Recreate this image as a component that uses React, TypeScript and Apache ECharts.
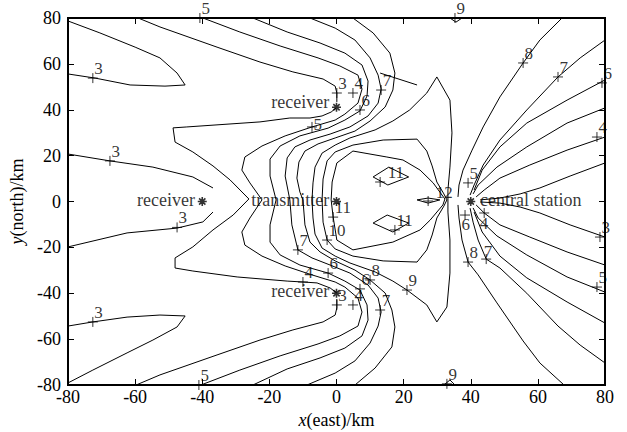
import React, { useEffect, useRef } from "react";
import * as echarts from "echarts";

const FONT = "'Liberation Serif', 'Times New Roman', Times, serif";

// ---- contour polylines, [x km, y km] ----
const wedge3Top = [[-80,78.7],[-70.5,73.5],[-60,67.3],[-52.6,62.6],[-47.5,56.0],[-45.1,50.8],[-51.1,50.3],[-61.5,50.8],[-71.9,53.8],[-80,55.6]];
const wedge3Bottom = [[-80,-79.1],[-72.6,-73.5],[-62.4,-66.0],[-54.7,-60.4],[-47.5,-54.7],[-45.1,-49.9],[-52.6,-49.5],[-62.4,-50.4],[-72.6,-52.5],[-80,-54.3]];
const left3Upper = [[-80,20.7],[-67.5,17.7],[-54.7,15.0],[-42.8,10.7],[-36.8,5.9]];
const left3Lower = [[-36.8,-4.6],[-39.8,-8.9],[-47.5,-11.6],[-62.4,-13.7],[-80,-19.8]];
const loop4 = [[-0.1,40.8],[-1.6,39.0],[-4.3,37.3],[-7.9,36.4],[-13.9,36.4],[-22.8,34.7],[-44.6,32.5],[-48.7,32.1],[-48.1,25.9],[-42.8,21.6],[-36.8,15.5],[-31.7,9.4],[-26.1,1.1],[-30.8,-5.9],[-36.8,-12.4],[-42.8,-19.8],[-48.1,-24.6],[-48.1,-29.0],[-42.8,-30.3],[-29.6,-32.9],[-14.7,-34.7],[-10.0,-35.1],[-5.8,-35.5],[-1.9,-37.7],[0.1,-39.9]];
const topA = [[-59.1,80],[-52.6,76.1],[-35.6,67.3],[-22.8,60.8],[-13.0,56.5],[-4.0,53.4],[-0.4,50.3],[0.1,47.3],[0.1,43.4]];
const bottomA = [[-59.7,-80],[-52.6,-75.6],[-35.6,-66.9],[-22.8,-60.4],[-13.0,-56.0],[-4.0,-52.5],[-0.4,-49.5],[0.1,-46.4],[0.1,-42.5]];
const level5 = [[-39.8,80],[-28.8,73.9],[-16.8,67.8],[-5.5,62.6],[1.0,59.1],[6.4,55.1],[7.6,49.0],[6.4,42.9],[2.5,38.1],[-0.4,35.5],[-7.3,32.5],[-15.3,28.6],[-22.2,24.2],[-27.3,19.4],[-28.2,13.7],[-25.8,8.1],[-22.2,0.7],[-25.8,-7.2],[-28.2,-13.3],[-27.3,-19.0],[-22.2,-23.8],[-15.3,-28.1],[-7.3,-32.0],[-0.4,-35.1],[2.5,-37.3],[6.4,-42.1],[7.6,-48.2],[6.4,-54.3],[1.0,-58.6],[-5.5,-62.1],[-16.8,-67.3],[-28.8,-73.5],[-40.4,-80]];
const level6 = [[-24.9,80],[-14.7,73.9],[-4.9,69.1],[2.5,64.7],[7.6,59.5],[9.4,52.5],[9.1,46.0],[7.0,39.5],[2.5,35.5],[-2.5,32.0],[-10.9,28.6],[-16.8,24.2],[-19.8,18.5],[-19.8,11.1],[-18.0,0.7],[-19.8,-10.2],[-19.8,-17.7],[-16.8,-23.3],[-10.9,-27.7],[-2.5,-31.2],[2.5,-34.7],[7.0,-38.6],[9.1,-45.1],[9.4,-51.7],[7.6,-58.6],[2.5,-63.9],[-4.9,-68.2],[-14.7,-73.0],[-24.9,-80]];
const level7 = [[-7.9,80],[-0.4,75.6],[5.5,70.4],[10.0,62.6],[12.4,55.1],[13.3,49.0],[12.4,42.9],[9.4,37.3],[4.0,32.5],[-1.9,29.4],[-7.9,26.8],[-12.4,23.8],[-14.7,19.0],[-15.3,11.1],[-13.9,0.7],[-13.3,-10.2],[-11.5,-21.1],[-7.3,-24.6],[-1.9,-27.7],[4.0,-31.2],[9.4,-36.4],[12.4,-42.1],[13.3,-48.2],[12.4,-54.3],[10.0,-61.7],[5.5,-69.5],[-0.4,-74.8],[-8.8,-80]];
const level8 = [[4.9,80],[10.9,73.5],[15.9,64.7],[17.4,56.0],[16.8,48.6],[14.5,41.2],[10.0,35.1],[5.5,30.7],[-0.4,27.7],[-5.5,25.1],[-9.4,22.0],[-11.2,17.2],[-11.8,10.2],[-10.9,4.1],[-10.0,0.7],[-9.4,-10.2],[-7.9,-17.7],[-4.9,-22.0],[-0.4,-25.9],[5.5,-29.9],[10.0,-34.2],[14.5,-39.9],[16.5,-47.3],[17.4,-54.7],[16.5,-63.4],[11.5,-72.6],[5.5,-80]];
const level9 = [[29.9,54.3],[26.9,47.3],[21.8,39.9],[16.8,35.1],[11.5,31.2],[4.0,27.7],[-0.4,24.6],[-4.3,21.1],[-6.4,15.0],[-7.0,8.1],[-7.3,0.7],[-7.0,-7.2],[-6.4,-14.2],[-4.3,-20.3],[-0.4,-23.8],[4.0,-26.8],[11.5,-30.7],[16.8,-34.7],[21.0,-38.6],[26.9,-45.1],[29.9,-52.5],[32.9,-46.0],[33.8,-31.2],[33.8,-16.8],[33.2,-4.6],[33.2,5.0],[33.8,15.0],[34.4,29.9],[33.8,44.2],[29.9,54.3]];
const level10 = [[-4.3,0.7],[-4.0,-9.0],[-2.8,-16.8],[-0.4,-20.7],[4.9,-23.8],[13.9,-25.9],[24.0,-26.4],[26.9,-21.1],[28.5,-14.6],[29.9,-7.2],[32.0,-2.0],[32.9,0.7],[32.0,3.3],[29.9,8.5],[28.5,15.5],[26.9,22.0],[24.0,27.2],[13.9,26.8],[4.9,24.6],[-0.4,21.6],[-2.8,17.7],[-4.0,9.8],[-4.3,0.7]];
const level11 = [[-1.6,0.7],[-1.3,8.5],[0.1,16.8],[4.9,22.0],[15.0,19.4],[19.8,18.1],[24.9,13.7],[28.8,8.1],[32.3,1.1],[31.7,-1.5],[27.9,-8.1],[24.9,-12.4],[16.8,-17.7],[4.9,-21.1],[0.1,-16.8],[-1.0,-6.8],[-1.6,0.7]];
const diamondUpper = [[10.9,10.7],[15.6,15.0],[21.5,10.7],[15.3,7.2],[10.9,10.7]];
const diamondLower = [[10.9,-9.4],[15.1,-5.9],[21.5,-9.4],[16.8,-13.3],[10.9,-9.4]];
const leaf12 = [[24.0,0.7],[27.3,1.5],[30.8,0.7],[27.3,-0.7],[24.0,0.7]];
const short7 = [[13.0,56.0],[24.0,50.8]];
const top9 = [[33.8,80],[35.6,78.2],[37.4,80]];
const bottom9 = [[32.0,-80],[33.8,-77.8],[35.3,-80]];
const fanU8 = [[67.2,80],[60.6,70.4],[55.6,60.4],[48.7,45.6],[43.7,32.5],[40.4,22.4],[37.7,13.7],[36.5,7.2],[36.2,2.0]];
const fanU7 = [[80,70.4],[72.6,62.6],[66.0,54.3],[56.7,39.9],[48.7,26.8],[43.7,15.9],[41.0,7.2],[39.8,2.8]];
const fanU6 = [[80,53.0],[68.7,44.2],[56.7,34.2],[48.7,23.8],[43.4,13.7],[41.0,5.0]];
const fanU5 = [[80,40.8],[68.7,34.2],[56.7,23.8],[47.8,15.0],[42.2,7.2],[40.7,3.3]];
const fanU4 = [[80,28.1],[68.7,22.4],[57.6,15.9],[48.7,10.2],[44.0,5.0],[41.6,2.0]];
const fanU3 = [[80,16.8],[69.6,11.1],[60.6,5.9],[54.7,3.3],[48.7,1.5],[42.8,0.7]];
const fanL3 = [[80,-15.5],[69.6,-10.2],[60.6,-5.0],[54.7,-2.4],[48.7,-0.7],[42.8,-0.2]];
const fanL4 = [[80,-27.7],[68.7,-22.0],[57.6,-15.5],[48.7,-10.2],[44.0,-5.0],[41.6,-1.5]];
const fanL5 = [[80,-39.5],[68.7,-32.9],[56.7,-23.3],[47.8,-15.0],[42.2,-7.2],[40.7,-2.8]];
const fanL6 = [[80,-53.0],[68.7,-43.8],[56.7,-33.3],[48.7,-23.8],[43.4,-13.3],[41.0,-4.6]];
const fanL7 = [[80,-70.4],[72.6,-62.6],[66.0,-54.3],[56.7,-40.0],[48.7,-29.0],[44.6,-25.1],[42.2,-16.8],[40.7,-9.0],[39.8,-2.9]];
const fanL8 = [[67.8,-80],[60.6,-70.4],[55.6,-60.8],[47.8,-44.2],[42.2,-32.0],[39.2,-26.4],[37.4,-16.8],[36.5,-7.2],[36.2,-1.5]];

const contourLines = [
  wedge3Top, wedge3Bottom, left3Upper, left3Lower, loop4, topA, bottomA,
  level5, level6, level7, level8, level9, level10, level11,
  diamondUpper, diamondLower, leaf12, short7, top9, bottom9,
  fanU8, fanU7, fanU6, fanU5, fanU4, fanU3,
  fanL3, fanL4, fanL5, fanL6, fanL7, fanL8,
];

// contour labels: [x, y, text] at the "+" mark
const contourLabels: [number, number, string][] = [
  [-40.7,80,"5"],[35.3,80,"9"],[55.6,60.4,"8"],[66.0,54.3,"7"],[79.1,51.7,"6"],
  [-72.6,53.8,"3"],[0.1,47.3,"3"],[4.9,47.3,"4"],[7.0,39.9,"6"],[13.3,48.6,"7"],
  [-7.3,32.5,"5"],[-67.5,17.7,"3"],[77.6,28.1,"4"],[13.0,8.5,"11"],[39.2,8.1,"5"],
  [27.3,0.2,"12"],[-47.5,-11.3,"3"],[-1.0,-6.8,"11"],[17.4,-12.4,"11"],[38.3,-5.9,"6"],
  [44.0,-5.0,"4"],[78.5,-15.5,"3"],[-2.8,-16.8,"10"],[-11.5,-21.1,"7"],[39.2,-26.4,"8"],
  [44.6,-25.1,"7"],[-2.5,-31.2,"6"],[-10.0,-35.1,"4"],[77.6,-37.3,"5"],[7.0,-38.1,"6"],
  [10.0,-34.2,"8"],[21.0,-38.6,"9"],[0.1,-45.1,"3"],[4.9,-45.1,"4"],[13.0,-47.3,"7"],
  [-72.6,-52.5,"3"],[-41.0,-80,"5"],[32.9,-79.5,"9"],
];

const stations: [number, number, string][] = [
  [-40, 0, "receiver"],
  [0, 41.1, "receiver"],
  [0, 0, "transmitter"],
  [0, -40, "receiver"],
  [40, 0, "central station"],
];

const X_MIN = -80, X_MAX = 80, Y_MIN = -80, Y_MAX = 80, STEP = 20;

// label text offset (px) from the "+" mark: [dx of text left, dy of text middle]
const DEFAULT_LABEL_OFFSET: [number, number] = [2, -9];
const LABEL_OFFSET_OVERRIDES: Record<number, [number, number]> = {
  10: [2, -2], 13: [8, -9], 15: [8, -8], 19: [-3, 10], 20: [-4, 11], 25: [-2, -7],
};
// vertical nudge (px) of station names; the upper receiver sits higher to clear the "5" label
const STATION_TEXT_NUDGE = [-2, -5, -2, -2, -2];

const PLUS = "path://M0,5L10,5M5,0L5,10";
const STAR = "path://M0,5L10,5M5,0L5,10M1.5,1.5L8.5,8.5M8.5,1.5L1.5,8.5";

export default function App() {
  const ref = useRef<HTMLDivElement>(null);
  useEffect(() => {
    document.body.style.margin = "0";
    const chart = echarts.init(ref.current!, null, { renderer: "svg" });
    const tick = { show: true, inside: true, length: 6, lineStyle: { color: "#000", width: 1 } };
    const noLine = { show: false, onZero: false };
    const labelStyle = { color: "#000", fontFamily: FONT, fontSize: 18 };
    const nameStyle = {
      color: "#000", fontFamily: FONT, fontSize: 18,
      rich: { i: { fontStyle: "italic", fontFamily: FONT, fontSize: 18, color: "#000" } },
    };
    const series: any[] = contourLines.map((pts) => ({
      type: "line", data: pts, symbol: "none", showSymbol: false, silent: true,
      lineStyle: { color: "#000", width: 1 }, z: 2,
    }));
    series.push({
      type: "scatter", silent: true, clip: false, z: 4,
      symbol: PLUS, symbolSize: 10,
      itemStyle: { color: "rgba(0,0,0,0)", borderColor: "#000", borderWidth: 1 },
      data: contourLabels.map(([x, y, t], i) => {
        const [dx, dy] = LABEL_OFFSET_OVERRIDES[i] || DEFAULT_LABEL_OFFSET;
        return { value: [x, y], name: t, label: { position: [5 + dx, 5 + dy] } };
      }),
      label: {
        show: true, formatter: "{b}", align: "left", verticalAlign: "middle", lineHeight: 12,
        color: "#000", fontFamily: FONT, fontSize: 17,
      },
    });
    series.push({
      type: "scatter", silent: true, clip: false, z: 5,
      symbol: STAR, symbolSize: 9,
      itemStyle: { color: "rgba(0,0,0,0)", borderColor: "#000", borderWidth: 1.6 },
      data: stations.map(([x, y, t], i) => ({
        value: [x, y], name: t,
        label: {
          position: t === "central station" ? "right" : "left",
          distance: t === "central station" ? 4 : 2,
          offset: [0, STATION_TEXT_NUDGE[i]],
        },
      })),
      label: { show: true, formatter: "{b}", color: "#000", fontFamily: FONT, fontSize: 18, lineHeight: 12 },
    });
    chart.setOption({
      animation: false,
      backgroundColor: "#fff",
      grid: {
        left: 68, top: 18, width: 537, height: 367, show: true,
        borderColor: "#000", borderWidth: 2, backgroundColor: "transparent",
        containLabel: false, outerBoundsMode: "none",
      },
      xAxis: [
        {
          type: "value", min: X_MIN, max: X_MAX, interval: STEP, position: "bottom",
          axisLine: noLine, axisTick: tick, splitLine: { show: false },
          axisLabel: { ...labelStyle, margin: 3, showMinLabel: true, showMaxLabel: true },
          name: "{i|x}(east)/km", nameLocation: "middle", nameGap: 24, nameTextStyle: nameStyle,
        },
        {
          type: "value", min: X_MIN, max: X_MAX, interval: STEP, position: "top",
          axisLine: noLine, axisTick: tick, splitLine: { show: false }, axisLabel: { show: false },
        },
      ],
      yAxis: [
        {
          type: "value", min: Y_MIN, max: Y_MAX, interval: STEP, position: "left",
          axisLine: noLine, axisTick: tick, splitLine: { show: false },
          axisLabel: { ...labelStyle, margin: 7, showMinLabel: true, showMaxLabel: true },
          name: "{i|y}(north)/km", nameLocation: "middle", nameGap: 39, nameRotate: 90, nameTextStyle: nameStyle,
        },
        {
          type: "value", min: Y_MIN, max: Y_MAX, interval: STEP, position: "right",
          axisLine: noLine, axisTick: tick, splitLine: { show: false }, axisLabel: { show: false },
        },
      ],
      series,
    });
    return () => chart.dispose();
  }, []);
  return <div ref={ref} style={{ width: 627, height: 432 }} />;
}
